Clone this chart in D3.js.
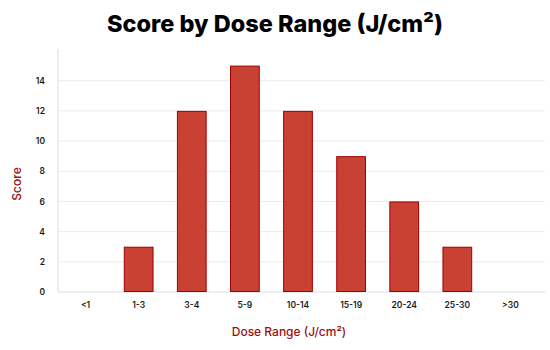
<!DOCTYPE html>
<html>
<head>
<meta charset="utf-8">
<script src="https://cdn.jsdelivr.net/npm/d3@7"></script>
<style>
  body { margin: 0; background: #fff; }
  svg { display: block; }
</style>
</head>
<body>
<svg id="chart"></svg>
<script>
// chart data
const doseRanges = ["<1", "1-3", "3-4", "5-9", "10-14", "15-19", "20-24", "25-30", ">30"];
const scores = [0, 3, 12, 15, 12, 9, 6, 3, 0];
const yTicks = [0, 2, 4, 6, 8, 10, 12, 14];

var size = { width: 550, height: 350 };
var plot = { left: 58, right: 545, top: 49, bottom: 292 };

var svg = d3.select("#chart")
    .attr("width", size.width)
    .attr("height", size.height);

var x = d3.scaleBand()
    .domain(doseRanges)
    .range([59, 537])
    .paddingInner(0.44)
    .paddingOuter(0.22);

var y = d3.scaleLinear()
    .domain([0, 16.1])
    .range([plot.bottom, plot.top]);

// gridlines
svg.append("g")
    .selectAll("line")
    .data(yTicks.slice(1))
    .enter()
    .append("line")
    .attr("x1", plot.left)
    .attr("x2", plot.right)
    .attr("y1", d => y(d))
    .attr("y2", d => y(d))
    .attr("stroke", "#ebebeb")
    .attr("stroke-width", 1);

// y tick labels
var yAxis = svg.append("g")
    .attr("transform", `translate(${plot.left},0)`)
    .call(d3.axisLeft(y).tickValues(yTicks).tickSize(0).tickPadding(13));
yAxis.select(".domain").remove();
yAxis.selectAll("text")
    .attr("font-family", "Inter, sans-serif")
    .attr("font-size", 8.5)
    .attr("font-weight", 600)
    .attr("fill", "#1a1a1a");

// x tick labels
var xAxis = svg.append("g")
    .attr("transform", `translate(0,${plot.bottom})`)
    .call(d3.axisBottom(x).tickSize(0).tickPadding(10));
xAxis.select(".domain").remove();
xAxis.selectAll("text")
    .attr("font-family", "Inter, sans-serif")
    .attr("font-size", 8.5)
    .attr("font-weight", 600)
    .attr("fill", "#1a1a1a");

// axis lines
svg.append("line")
    .attr("x1", plot.left).attr("x2", plot.left)
    .attr("y1", plot.top).attr("y2", plot.bottom)
    .attr("stroke", "#dddddd");
svg.append("line")
    .attr("x1", plot.left).attr("x2", plot.right)
    .attr("y1", plot.bottom).attr("y2", plot.bottom)
    .attr("stroke", "#dddddd");

// bars
svg.append("g")
    .selectAll(".bar")
    .data(doseRanges.map((d, i) => ({ range: d, score: scores[i] })).filter(d => d.score > 0))
    .enter()
    .append("rect")
    .attr("class", "bar")
    .attr("x", d => x(d.range) + 0.5)
    .attr("y", d => y(d.score) + 0.5)
    .attr("width", x.bandwidth() - 1)
    .attr("height", d => y(0) - y(d.score) - 1)
    .attr("fill", "#c84132")
    .attr("stroke", "#9e0000")
    .attr("stroke-width", 1);

// title
svg.append("text")
    .attr("x", 275)
    .attr("y", 32)
    .attr("text-anchor", "middle")
    .attr("font-family", "Inter, sans-serif")
    .attr("font-weight", 800)
    .attr("font-size", 23.5)
    .attr("fill", "#000")
    .text("Score by Dose Range (J/cm²)");

// axis titles
svg.append("text")
    .attr("x", 289)
    .attr("y", 336)
    .attr("text-anchor", "middle")
    .attr("font-family", "Inter, sans-serif")
    .attr("font-size", 12)
    .attr("font-weight", 500)
    .attr("fill", "#9b0f0f")
    .text("Dose Range (J/cm²)");

svg.append("text")
    .attr("transform", "translate(21,184) rotate(-90)")
    .attr("text-anchor", "middle")
    .attr("font-family", "Inter, sans-serif")
    .attr("font-size", 12)
    .attr("font-weight", 500)
    .attr("fill", "#9b0f0f")
    .text("Score");
</script>
</body>
</html>
